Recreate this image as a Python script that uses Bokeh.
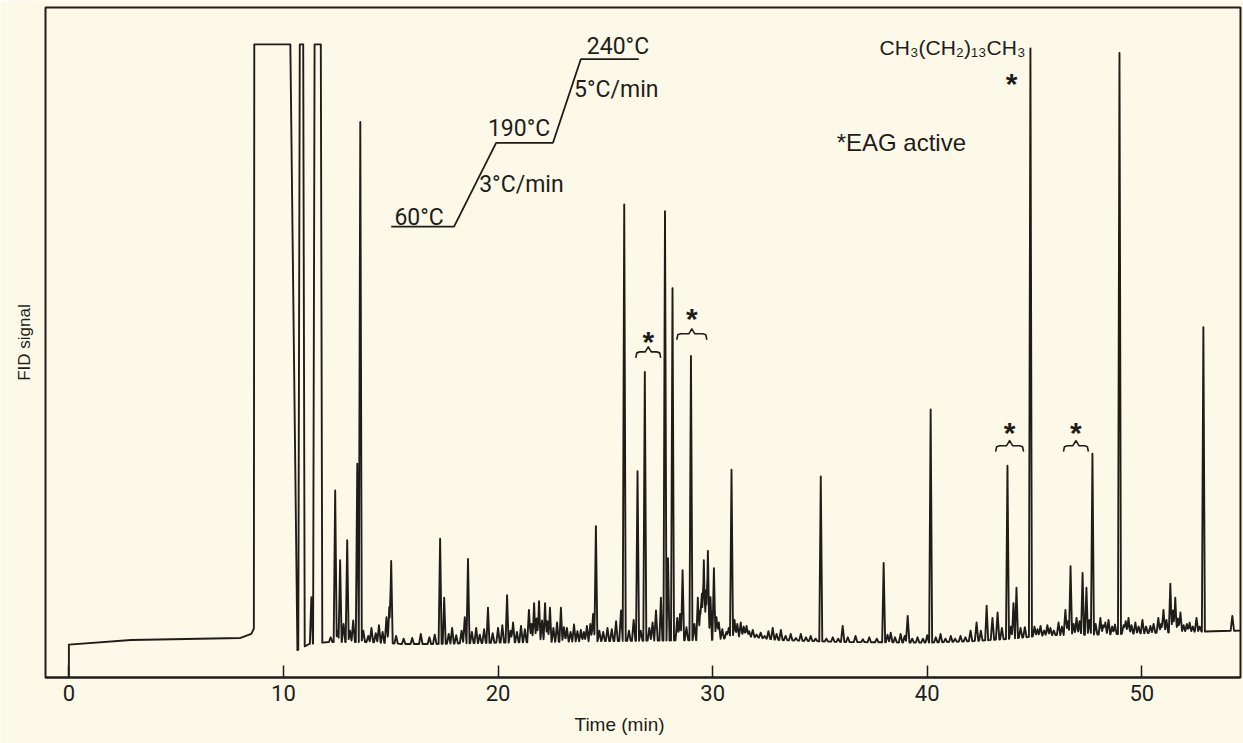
import numpy as np
from bokeh.plotting import figure
from bokeh.models import Range1d, Label, FixedTicker, Title
from bokeh.embed import file_html
from bokeh.resources import INLINE

# ---------------------------------------------------------------------------
# Recorder trace: retention time (min) and FID signal (% of recorder scale)
# ---------------------------------------------------------------------------
baseline_time = [0.0, 2.9, 8.0, 8.5, 8.62, 10.6, 11.2, 12.1, 14.0, 15.5, 17.0,
                 20.0, 24.0, 27.0, 30.0, 31.5, 33.0, 36.0, 40.0, 42.0, 44.0,
                 45.5, 48.0, 50.0, 52.0, 54.6]
baseline_signal = [4.9, 5.6, 5.9, 6.5, 7.3, 4.0, 5.0, 5.3, 5.3, 5.0, 5.0,
                   5.2, 5.4, 5.5, 5.6, 6.2, 5.6, 5.3, 5.2, 5.4, 5.8,
                   6.3, 6.4, 6.6, 6.8, 7.0]

peak_time = [
    11.30,
    12.20, 12.41, 12.52, 12.64, 12.80, 12.97, 13.10, 13.25, 13.44, 13.58,
    13.72, 13.95, 14.10, 14.30, 14.45, 14.62, 14.80, 14.93, 15.02,
    15.25, 15.60, 16.00, 16.40, 16.80, 17.05,
    17.30, 17.49, 17.70, 17.86, 18.05, 18.30, 18.45, 18.60, 18.78, 18.98,
    19.15, 19.35, 19.53, 19.75, 20.00, 20.20,
    20.42, 20.58, 20.70, 20.88, 21.07, 21.25, 21.44, 21.56, 21.68, 21.80,
    21.91, 22.05, 22.19, 22.30, 22.42, 22.58, 22.75, 22.93, 23.07, 23.21,
    23.38, 23.54, 23.70, 23.86, 24.00, 24.14, 24.30, 24.43, 24.56, 24.72,
    24.90, 25.10, 25.30, 25.50, 25.73, 25.88,
    26.10, 26.32, 26.50, 26.65, 26.84, 27.05, 27.20, 27.36,
    27.59, 27.78, 27.92, 28.13, 28.35, 28.48, 28.60,
    28.78, 28.99, 29.15, 29.31, 29.42, 29.50, 29.59, 29.69,
    29.78, 29.90, 30.06, 30.18, 30.29, 30.45, 30.64, 30.75, 30.88,
    31.02, 31.15, 31.31,
    31.45, 31.58, 31.70, 31.87, 32.05, 32.24, 32.42, 32.60, 32.80, 32.98,
    33.18, 33.40, 33.64, 33.88, 34.11, 34.35, 34.57, 34.80,
    35.04, 35.30, 35.60, 35.85, 36.06, 36.30, 36.66, 37.00, 37.30, 37.65,
    37.97, 38.15, 38.30, 38.50, 38.76, 38.95, 39.09, 39.30, 39.55, 39.80,
    40.00, 40.16,
    40.40, 40.62, 40.85, 41.10, 41.30, 41.55, 41.78, 42.02, 42.30,
    42.50, 42.77, 43.04, 43.28, 43.48, 43.74,
    43.90, 44.02, 44.16, 44.35, 44.55, 44.81,
    45.00, 45.14, 45.28, 45.45, 45.60, 45.74, 45.90, 46.12, 46.28,
    46.44, 46.56, 46.68, 46.82, 46.96, 47.10, 47.24, 47.42, 47.56,
    47.70, 47.85, 48.07, 48.20, 48.30, 48.45, 48.62, 48.75, 48.96,
    49.15, 49.25, 49.38, 49.52, 49.70, 49.85, 50.03, 50.20, 50.40, 50.55,
    50.77, 50.90, 51.01, 51.15, 51.33, 51.45, 51.56, 51.68, 51.80, 51.95,
    52.10, 52.23, 52.38, 52.55, 52.70, 52.87, 54.22,
]
peak_signal = [
    12.0,
    6.0, 27.9, 7.0, 17.5, 8.0, 20.5, 7.0, 8.5, 31.9, 82.9,
    7.0, 6.2, 7.4, 6.6, 7.8, 6.8, 9.0, 10.5, 17.4,
    6.2, 5.8, 5.9, 6.5, 6.0, 6.4,
    20.7, 11.9, 6.5, 7.4, 6.3, 7.0, 9.0, 17.7, 6.8, 7.4,
    6.4, 7.2, 10.4, 6.6, 7.4, 7.8,
    12.3, 7.0, 8.2, 6.8, 7.7, 7.2, 10.1, 8.0, 11.1, 8.8,
    11.4, 8.5, 11.1, 8.4, 10.4, 7.4, 8.2, 10.4, 7.5, 7.4,
    6.8, 7.9, 6.9, 7.1, 6.8, 7.7, 8.0, 9.5, 22.6, 7.0,
    6.8, 7.4, 7.2, 8.4, 10.0, 70.6,
    7.0, 8.6, 30.8, 7.0, 45.6, 7.4, 8.2, 10.0,
    11.9, 69.6, 17.8, 58.1, 8.9, 9.5, 16.0,
    7.5, 48.0, 8.0, 11.9, 10.0, 12.5, 17.5, 13.0,
    18.9, 12.0, 16.3, 9.0, 8.2, 7.2, 6.8, 7.4, 31.0,
    8.6, 8.0, 8.2,
    7.6, 7.7, 6.9, 7.1, 6.4, 6.7, 6.2, 6.9, 7.4, 6.5,
    7.1, 6.2, 6.5, 5.9, 6.5, 6.0, 6.2, 5.8,
    30.0, 5.8, 6.0, 5.8, 7.7, 6.0, 6.2, 5.7, 6.0, 5.8,
    17.1, 6.4, 6.7, 6.0, 6.5, 6.2, 9.2, 5.8, 6.0, 5.8,
    6.3, 40.0,
    6.0, 6.5, 5.8, 6.2, 5.8, 6.2, 6.0, 7.0, 8.2,
    7.0, 10.7, 8.9, 9.7, 7.4, 31.6,
    7.6, 11.1, 13.4, 7.4, 7.5, 93.9,
    7.6, 7.2, 7.7, 7.0, 7.8, 7.4, 7.0, 8.2, 7.6,
    10.1, 8.4, 16.6, 8.0, 8.9, 8.4, 15.6, 13.4, 8.6,
    33.4, 8.0, 8.9, 7.8, 8.2, 8.6, 7.6, 7.9, 93.2,
    7.8, 8.4, 8.9, 7.8, 8.2, 7.6, 8.6, 7.6, 7.7, 8.0,
    8.9, 8.0, 10.1, 8.6, 14.0, 10.0, 11.9, 8.8, 9.7, 7.8,
    8.0, 8.2, 7.6, 8.9, 7.6, 52.3, 9.2,
]

# peaks that drove the pen off scale (start and end of the flat top, min)
offscale_start = [8.64, 10.76, 11.45]
offscale_end = [10.32, 10.92, 11.74]
FULL_SCALE = 94.5
START_SIGNAL = 0.0

# oven programme
oven_temps = ["60°C", "190°C", "240°C"]
oven_rates = ["3°C/min", "5°C/min"]

time_ticks = [0, 10, 20, 30, 40, 50]

# ---------------------------------------------------------------------------
# build the pen trace: sharp triangular peaks on a drifting baseline
# ---------------------------------------------------------------------------
HW_MAIN = 0.07                  # half width at base of a real peak (min)
HW_NOISE = 0.08                 # broader zig-zag of the baseline noise
RISE = [0.02, 0.07, 0.07]       # pen travel time up to full scale
FALL = [0.33, 0.07, 0.07]       # and back down

bt = np.array(baseline_time)
bs = np.array(baseline_signal)
pt = np.array(peak_time)
ph = np.array(peak_signal)
pb = np.interp(pt, bt, bs)
hw = np.where(ph - pb < 5.0, HW_NOISE, HW_MAIN)
os_s = np.array(offscale_start)
os_e = np.array(offscale_end)

grid = np.unique(np.concatenate([
    bt, pt, pt - hw, pt + hw,
    os_s - np.array(RISE), os_s, os_e, os_e + np.array(FALL),
]))
grid = grid[(grid >= bt[0]) & (grid <= bt[-1])]

sig = np.interp(grid, bt, bs)
for t0, h, b0, w in zip(pt, ph, pb, hw):
    sig = np.maximum(sig, h - (h - b0) * np.abs(grid - t0) / w)
for s, e, r, f in zip(os_s, os_e, RISE, FALL):
    b_s = np.interp(s - r, bt, bs)
    b_e = np.interp(e + f, bt, bs)
    trap = np.where(grid < s, FULL_SCALE - (FULL_SCALE - b_s) * (s - grid) / r,
                    np.where(grid > e,
                             FULL_SCALE - (FULL_SCALE - b_e) * (grid - e) / f,
                             FULL_SCALE))
    sig = np.maximum(sig, trap)
sig = np.minimum(sig, FULL_SCALE)

trace_t = np.concatenate([[bt[0]], grid])
trace_s = np.concatenate([[START_SIGNAL], sig])

# ---------------------------------------------------------------------------
# figure
# ---------------------------------------------------------------------------
INK = "#1f1d1a"
PAPER = "#fcf9e8"
X0, X1 = -1.09, 54.6
PX_T = (X1 - X0) / 1196.0       # minutes per screen pixel
PX_S = 100.0 / 673.0            # signal units per screen pixel

p = figure(width=1243, height=743, x_range=Range1d(X0, X1),
           y_range=Range1d(0, 100), output_backend="svg",
           toolbar_location=None, min_border_left=44, min_border_right=3,
           min_border_top=7, min_border_bottom=63)
p.background_fill_color = PAPER
p.border_fill_color = PAPER
p.outline_line_color = INK
p.outline_line_width = 2
p.xgrid.visible = False
p.ygrid.visible = False
p.yaxis.visible = False

ax = p.xaxis[0]
ax.ticker = FixedTicker(ticks=time_ticks)
ax.axis_line_color = INK
ax.axis_line_width = 2
ax.major_tick_in = 12
ax.major_tick_out = 0
ax.minor_tick_line_color = None
ax.major_tick_line_color = INK
ax.major_tick_line_width = 1.5
ax.major_label_text_font = "Roboto"
ax.major_label_text_font_size = "22px"
ax.major_label_text_color = INK
ax.major_label_standoff = 7

p.line(trace_t, trace_s, line_color=INK, line_width=1.9, line_join="round")

# axis titles
p.add_layout(Title(text="Time (min)", align="left", offset=529, standoff=17,
                   text_font="Liberation Sans", text_font_size="19px",
                   text_font_style="normal", text_color=INK), "below")
p.add_layout(Title(text="FID signal", align="center", standoff=24,
                   text_font="Liberation Sans", text_font_size="17px",
                   text_font_style="normal", text_color=INK), "left")

# oven programme sketch
step_x = [15.02, 17.95, 19.91, 22.56, 23.86, 26.56]
step_y = [67.3, 67.3, 79.8, 79.8, 92.3, 92.3]
p.line(step_x, step_y, line_color=INK, line_width=1.8)
temp_pos = [(16.32, 68.7), (20.98, 82.0), (25.59, 94.2)]
for txt, (x, y) in zip(oven_temps, temp_pos):
    p.add_layout(Label(x=x, y=y, text=txt, text_align="center",
                       text_baseline="middle", text_font="Roboto",
                       text_font_size="23px", text_color=INK))
rate_pos = [(19.12, 73.6), (23.54, 87.7)]
for txt, (x, y) in zip(oven_rates, rate_pos):
    p.add_layout(Label(x=x, y=y, text=txt, text_align="left",
                       text_baseline="middle", text_font="Roboto",
                       text_font_size="23px", text_color=INK))

# compound label and EAG legend
p.add_layout(Label(x=44.58, y=94.1, text="CH₃(CH₂)₁₃CH₃", text_align="right",
                   text_baseline="middle", text_font="Liberation Sans",
                   text_font_size="21px", text_color=INK))
p.add_layout(Label(x=35.78, y=79.8, text="*EAG active", text_align="left",
                   text_baseline="middle", text_font="Liberation Sans",
                   text_font_size="24px", text_color=INK))


def asterisk(xc, yc):
    # the glyph sits in the upper part of its em box
    p.add_layout(Label(x=xc, y=yc - 6 * PX_S, text="*", text_align="center",
                       text_baseline="middle", text_font="Liberation Sans",
                       text_font_size="30px", text_font_style="bold",
                       text_color=INK))


def brace(xc, half, y):
    xs = [xc - half, xc - half + 1 * PX_T, xc - half + 4 * PX_T,
          xc - 3 * PX_T, xc, xc + 3 * PX_T,
          xc + half - 4 * PX_T, xc + half - 1 * PX_T, xc + half]
    ys = [y - 6 * PX_S, y - 1 * PX_S, y, y, y + 5 * PX_S, y, y,
          y - 1 * PX_S, y - 6 * PX_S]
    p.line(xs, ys, line_color=INK, line_width=1.6, line_join="round")


asterisk(43.93, 89.5)
for xc, half, yb, ya in [(27.00, 0.58, 48.6, 51.0), (29.03, 0.70, 51.3, 54.5),
                         (43.84, 0.65, 34.6, 37.4), (46.93, 0.58, 34.6, 37.4)]:
    brace(xc, half, yb)
    asterisk(xc, ya)

open("out.html", "w").write(file_html(p, INLINE))
